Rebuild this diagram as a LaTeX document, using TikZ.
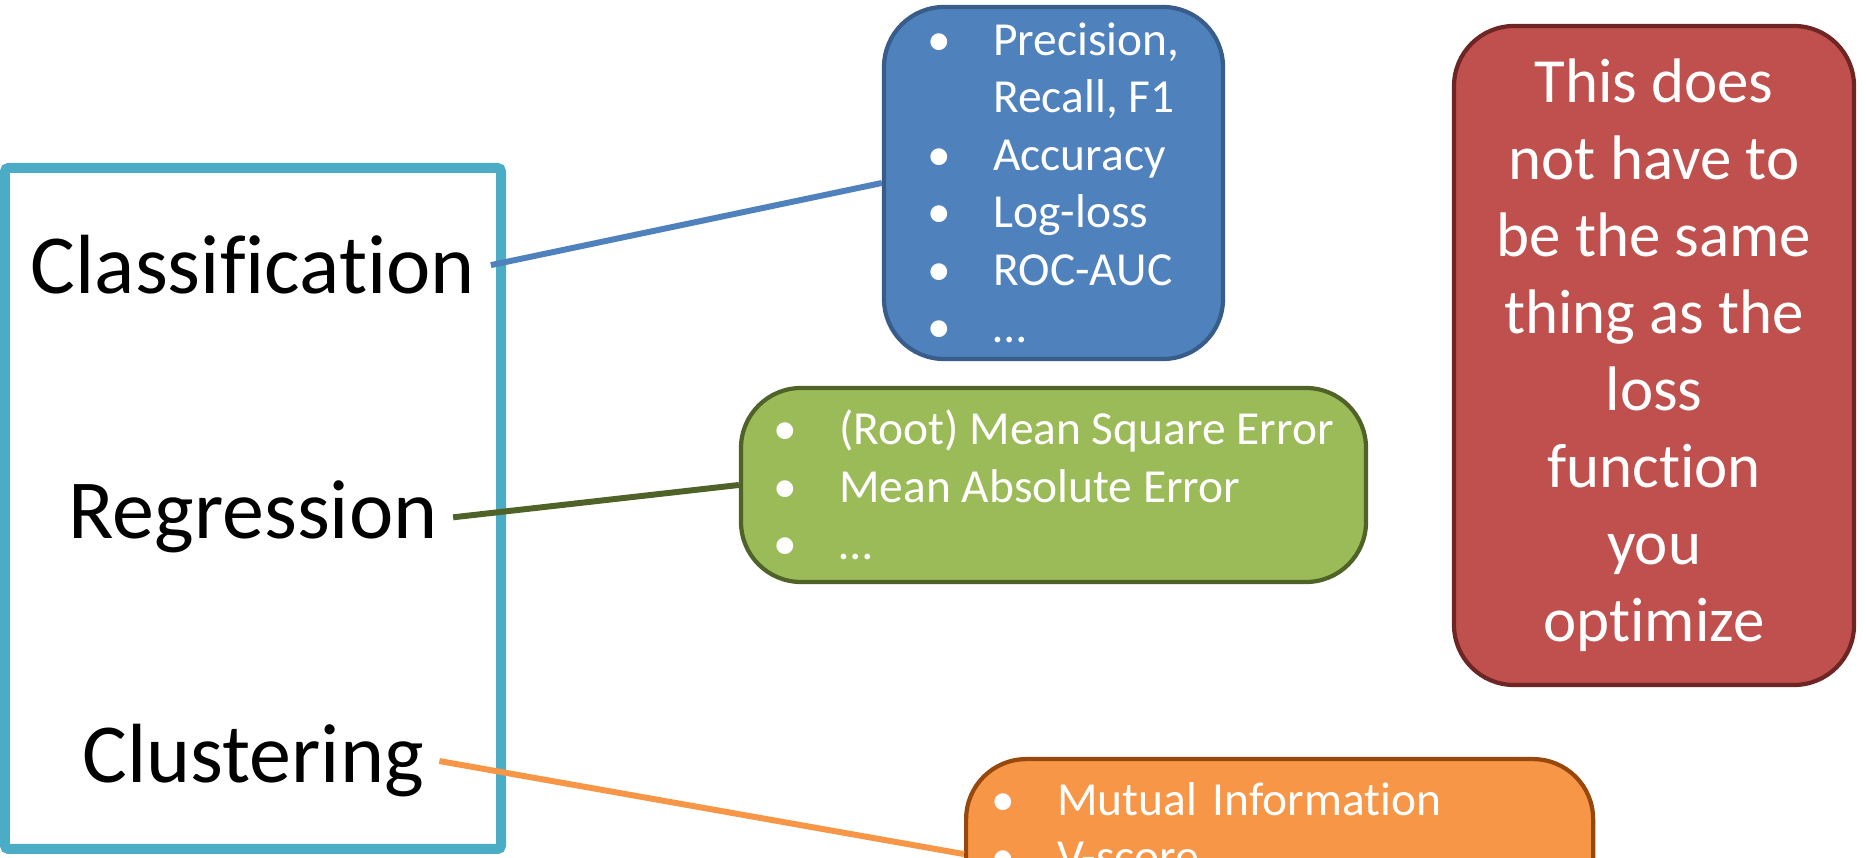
\documentclass[tikz,border=0pt]{standalone}
\usepackage{fontspec}
\setmainfont{Carlito}[Ligatures=NoCommon]
\usetikzlibrary{positioning}
\definecolor{taskteal}{HTML}{4BACC6}
\definecolor{clsblue}{HTML}{4F81BD}
\definecolor{clsnavy}{HTML}{385D8A}
\definecolor{reggreen}{HTML}{9BBB59}
\definecolor{regolive}{HTML}{4F6228}
\definecolor{cluorange}{HTML}{F79646}
\definecolor{clubrown}{HTML}{98480C}
\definecolor{notered}{HTML}{C0504D}
\definecolor{notemaroon}{HTML}{6E2624}
\newcommand{\itm}{\makebox[0.66cm][l]{\textbullet}}
\newcommand{\itmpad}{\hspace*{0.66cm}}

\begin{document}
\begin{tikzpicture}[
      task/.style={font=\fontsize{23.9pt}{28pt}\selectfont, inner xsep=0.15cm, anchor=base},
      taskframe/.style={draw=taskteal, line width=1mm, rounded corners=1pt},
      listbox/.style={rounded corners=0.6cm, line width=1.2pt, text=white, align=left,
                      font=\fontsize{13.5pt}{16.36pt}\selectfont, inner ysep=0pt},
      note/.style={rounded corners=0.6cm, fill=notered, draw=notemaroon, line width=1.2pt,
                   text=white, align=center, minimum width=4cm, minimum height=6.59cm,
                   font=\fontsize{17.9pt}{21.9pt}\selectfont},
      link/.style={line width=1.7pt},
    ]
    \useasboundingbox (0,0) rectangle (18.66,8.58);
    \clip (0,0) rectangle (18.66,8.58);

    % task types
    \node[taskframe, minimum width=4.96cm, minimum height=6.81cm] (tasks) at (2.53,3.495) {};
    \node[task] (cls) at (2.53,5.64) {Classification};
    \node[task] (reg) at (2.53,3.19) {Regression};
    \node[task] (clu) at (2.53,0.75) {Clustering};

    % metrics
    \node[listbox, fill=clsblue, draw=clsnavy, minimum width=3.39cm,
          minimum height=3.52cm] (clsm) at (10.535,6.75)
          {\itm Precision,\\ \itmpad Recall, F1\\ \itm Accuracy\\ \itm Log-loss\\ \itm ROC-AUC\\ \itm …};
    \node[listbox, fill=reggreen, draw=regolive, minimum width=6.25cm,
          minimum height=1.94cm] (regm) at (10.535,3.73)
          {\itm (Root) Mean Square Error\\ \itm Mean Absolute Error\\ \itm …};
    \node[listbox, fill=cluorange, draw=clubrown, text width=5.77cm, inner xsep=0.25cm,
          inner ysep=0.23cm, text depth=1.11cm, anchor=north west] (clum) at (9.64,1.01)
          {\itm Mutual Information\\ \itm V-score};

    \node[note] (note) at (16.54,5.025)
          {This does\\not have to\\be the same\\thing as the\\loss\\function\\you\\optimize};

    \draw[link, clsblue] (cls.east) -- (clsm.west);
    \draw[link, regolive] (reg.east) -- (regm.west);
    \draw[link, cluorange] (clu.east) -- (clum.west);
  \end{tikzpicture}
\end{document}
